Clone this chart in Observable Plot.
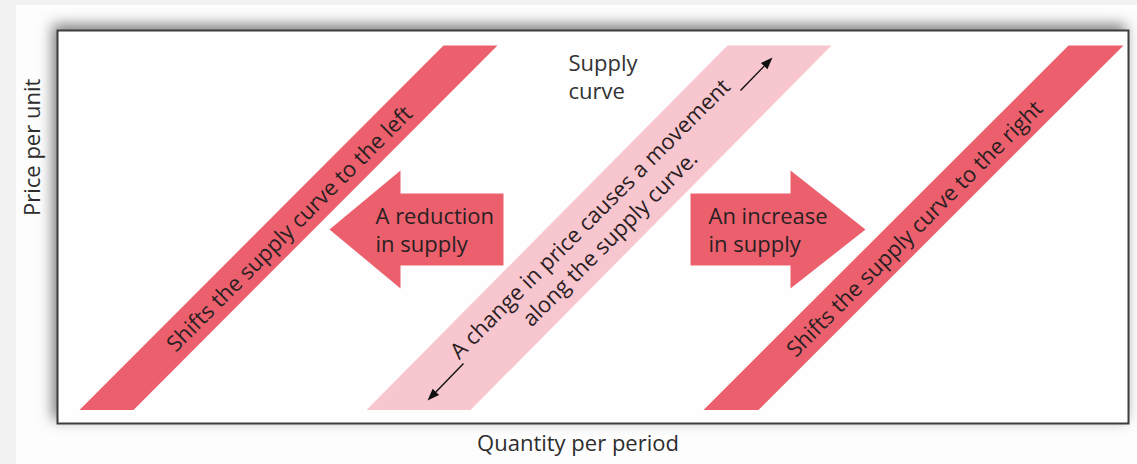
<!DOCTYPE html>
<html><head><meta charset="utf-8">
<script src="https://cdn.jsdelivr.net/npm/d3@7"></script>
<script src="https://cdn.jsdelivr.net/npm/@observablehq/plot@0.6"></script>
<style>
html,body{margin:0;padding:0;background:#f2f2f2;}
#wrap{position:relative;width:1137px;height:464px;overflow:hidden;
 background: linear-gradient(to right,#f2f2f2 0 16px, transparent 16px), linear-gradient(to bottom,#f2f2f2 0 5px,#fdfdfd 5px);}
#chart{position:absolute;left:0;top:0;}
</style></head><body>
<div id="wrap"><div id="chart"></div></div>
<script>
// ---- data (abstract quantity / price units of the diagram) ----
const xLabel = "Quantity per period";
const yLabel = "Price per unit";

const priceLow = 13.5, priceHigh = 378;
const bandNames = ["left shift", "supply curve", "right shift"];
const bandKinds = ["shift", "movement", "shift"];
const bandQtyLow = [22, 309, 646];
const bandQtyHigh = [386, 670, 1011];
const bandWidths = [54, 104, 55];
const bandLabels = [
  "Shifts the supply curve to the left",
  "A change in price causes a movement\nalong the supply curve.",
  "Shifts the supply curve to the right"
];

const arrowLabels = ["A reduction\nin supply", "An increase\nin supply"];
const arrowTip = [272, 808];
const arrowHeadBase = [343, 733];
const arrowTail = [446, 633];
const arrowTextQty = [318, 651];
const arrowPrice = 194, arrowHeadHalf = 59, arrowBodyHalf = 36;

const curveLabel = "Supply\ncurve";
const curveLabelQty = 511, curveLabelPrice = 347;

const moveFrom = [[683, 333], [406, 60]];
const moveTo = [[715, 366], [370, 23]];

// ---- derived geometry ----
const bandPolys = bandNames.flatMap((name, i) => {
  const w = bandWidths[i];
  return [[bandQtyLow[i], priceLow], [bandQtyLow[i] + w, priceLow],
          [bandQtyHigh[i] + w, priceHigh], [bandQtyHigh[i], priceHigh],
          [bandQtyLow[i], priceLow]]
    .map(([q, p]) => ({band: name, kind: bandKinds[i], q, p}));
});
const bandText = bandNames.map((name, i) => ({
  text: bandLabels[i],
  q: (bandQtyLow[i] + bandQtyHigh[i] + bandWidths[i]) / 2,
  p: (priceLow + priceHigh) / 2
}));
const arrowPolys = arrowLabels.flatMap((name, i) => {
  const p = arrowPrice;
  return [[arrowTip[i], p], [arrowHeadBase[i], p + arrowHeadHalf], [arrowHeadBase[i], p + arrowBodyHalf],
          [arrowTail[i], p + arrowBodyHalf], [arrowTail[i], p - arrowBodyHalf], [arrowHeadBase[i], p - arrowBodyHalf],
          [arrowHeadBase[i], p - arrowHeadHalf], [arrowTip[i], p]]
    .map(([q, pp]) => ({arrow: name, q, p: pp}));
});
const arrowText = arrowLabels.map((t, i) => ({text: t, q: arrowTextQty[i], p: arrowPrice}));

const headLen = 12, headHalf = 4.5;
const moveShafts = [], moveHeads = [];
moveFrom.forEach((f, i) => {
  const t = moveTo[i];
  const dx = t[0] - f[0], dy = t[1] - f[1], L = Math.hypot(dx, dy);
  const ux = dx / L, uy = dy / L;
  const bx = t[0] - ux * headLen, by = t[1] - uy * headLen;
  moveShafts.push({x1: f[0], y1: f[1], x2: bx, y2: by});
  [[t[0], t[1]], [bx - uy * headHalf, by + ux * headHalf], [bx + uy * headHalf, by - ux * headHalf], [t[0], t[1]]]
    .forEach(([q, p]) => moveHeads.push({id: i, q, p}));
});

const ink = "#2a2022";
const fontSize = 22;

const chart = Plot.plot({
  width: 1137,
  height: 464,
  marginLeft: 57,
  marginRight: 9,
  marginTop: 30,
  marginBottom: 41,
  x: {domain: [0, 1071], axis: null},
  y: {domain: [0, 393], axis: null},
  color: {domain: ["shift", "movement"], range: ["#ec606e", "#f8c6ce"]},
  style: {background: "transparent", fontFamily: "'Open Sans', sans-serif", overflow: "visible"},
  marks: [
    Plot.frame({fill: "#fefefe", stroke: "#3d3d3d", strokeWidth: 2}),
    Plot.line(bandPolys, {x: "q", y: "p", z: "band", fill: "kind", stroke: null, curve: "linear"}),
    Plot.line(arrowPolys, {x: "q", y: "p", z: "arrow", fill: "#ec606e", stroke: null, curve: "linear"}),
    Plot.link(moveShafts, {x1: "x1", y1: "y1", x2: "x2", y2: "y2", stroke: "#111", strokeWidth: 1.4}),
    Plot.line(moveHeads, {x: "q", y: "p", z: "id", fill: "#111", stroke: null}),
    Plot.text(bandText, {x: "q", y: "p", text: "text", rotate: -45, fontSize, lineHeight: 1.27,
      textAnchor: "middle", lineAnchor: "middle", fill: ink}),
    Plot.text(arrowText, {x: "q", y: "p", text: "text", fontSize, lineHeight: 1.27,
      textAnchor: "start", lineAnchor: "middle", fill: ink}),
    Plot.text([curveLabel], {x: [curveLabelQty], y: [curveLabelPrice], text: d => d, fontSize, lineHeight: 1.27,
      textAnchor: "start", lineAnchor: "middle", fill: "#333"}),
    Plot.text([yLabel], {frameAnchor: "left", text: d => d, dx: -25, dy: -11, rotate: -90, fontSize, fill: "#2d2d2d"}),
    Plot.text([xLabel], {frameAnchor: "bottom", text: d => d, dx: -15, dy: 27, fontSize, fill: "#2d2d2d"})
  ]
});
d3.select(chart).selectAll('[aria-label="frame"]').style("filter", "drop-shadow(-4px -5px 7px rgba(0,0,0,0.5))");
document.getElementById("chart").appendChild(chart);
</script>
</body></html>
